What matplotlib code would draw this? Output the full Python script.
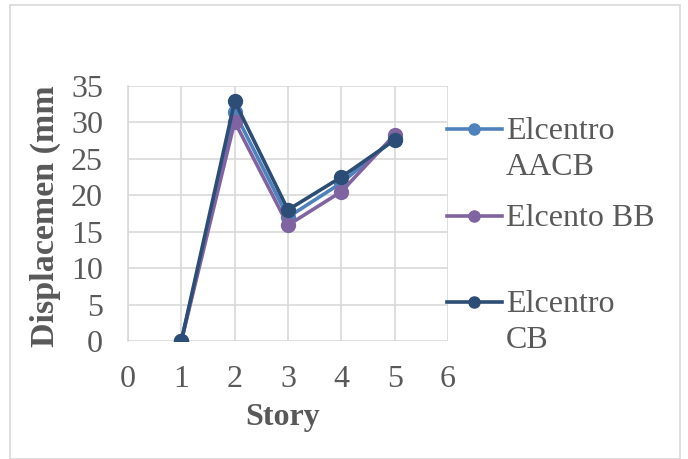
import matplotlib
matplotlib.use("Agg")
import matplotlib.pyplot as plt
from matplotlib.lines import Line2D
from matplotlib.patches import Rectangle

# --- data ---
stories = [1, 2, 3, 4, 5]
aacb = [0, 31.4, 17.0, 21.7, 27.8]
bb = [0, 30.1, 15.9, 20.5, 28.3]
cb = [0, 32.9, 18.0, 22.5, 27.6]
labels = [["Elcentro", "AACB"], ["Elcento BB"], ["Elcentro", "CB"]]
colors = ["#4F81BD", "#8064A2", "#2C4D75"]
x_ticks = [0, 1, 2, 3, 4, 5, 6]
y_ticks = [0, 5, 10, 15, 20, 25, 30, 35]

TEXT = "#595959"
GRID = "#D9D9D9"
FS = 23

plt.rcParams["font.family"] = ["Liberation Serif", "DejaVu Serif"]

fig = plt.figure(figsize=(6.88, 4.59), dpi=100)
ax = fig.add_axes([128 / 688, 1 - 341 / 459, 320 / 688, 255 / 459])

for ys, c in zip([aacb, bb, cb], colors):
    ax.plot(stories, ys, color=c, lw=2.6, marker="o", ms=10, zorder=3)

ax.set_xlim(0, 6)
ax.set_ylim(0, 35)
ax.set_xticks(x_ticks)
ax.set_yticks(y_ticks)
ax.grid(True, color=GRID, lw=1.2)
ax.set_axisbelow(True)
for s in ax.spines.values():
    s.set_visible(False)
ax.spines["left"].set_visible(True)
ax.spines["left"].set_color(GRID)
ax.spines["left"].set_linewidth(1.2)
ax.tick_params(length=0, labelsize=FS, labelcolor=TEXT)
ax.tick_params(axis="x", pad=17)
ax.tick_params(axis="y", pad=18)
for lab in ax.get_xticklabels() + ax.get_yticklabels():
    lab.set_clip_on(False)

fig.text(283 / 688, 1 - 418 / 459, "Story", ha="center", va="center",
         fontsize=FS, fontweight="bold", color=TEXT)
fig.text(45 / 688, 1 - 216 / 459, "Displacemen (mm", ha="center", va="center",
         rotation=90, fontsize=24.5, fontweight="bold", color=TEXT)

# legend drawn by hand to match the spacing
leg_y = [129, 216, 302]
for lines, c, y in zip(labels, colors, leg_y):
    fy = 1 - y / 459
    fig.add_artist(Line2D([447 / 688, 502 / 688], [fy, fy], color=c, lw=2.6,
                          transform=fig.transFigure))
    fig.add_artist(Line2D([474 / 688], [fy], color=c, marker="o", ms=8,
                          transform=fig.transFigure))
    for i, txt in enumerate(lines):
        base = y + 10 + 36 * i
        fig.text(506 / 688, 1 - base / 459, txt, ha="left", va="baseline",
                 fontsize=FS, color=TEXT)

fig.add_artist(Rectangle((10 / 688, 0), 670 / 688, 1 - 5 / 459, fill=False,
                         edgecolor=GRID, lw=1.2, transform=fig.transFigure))

fig.savefig("out.png", dpi=100)
